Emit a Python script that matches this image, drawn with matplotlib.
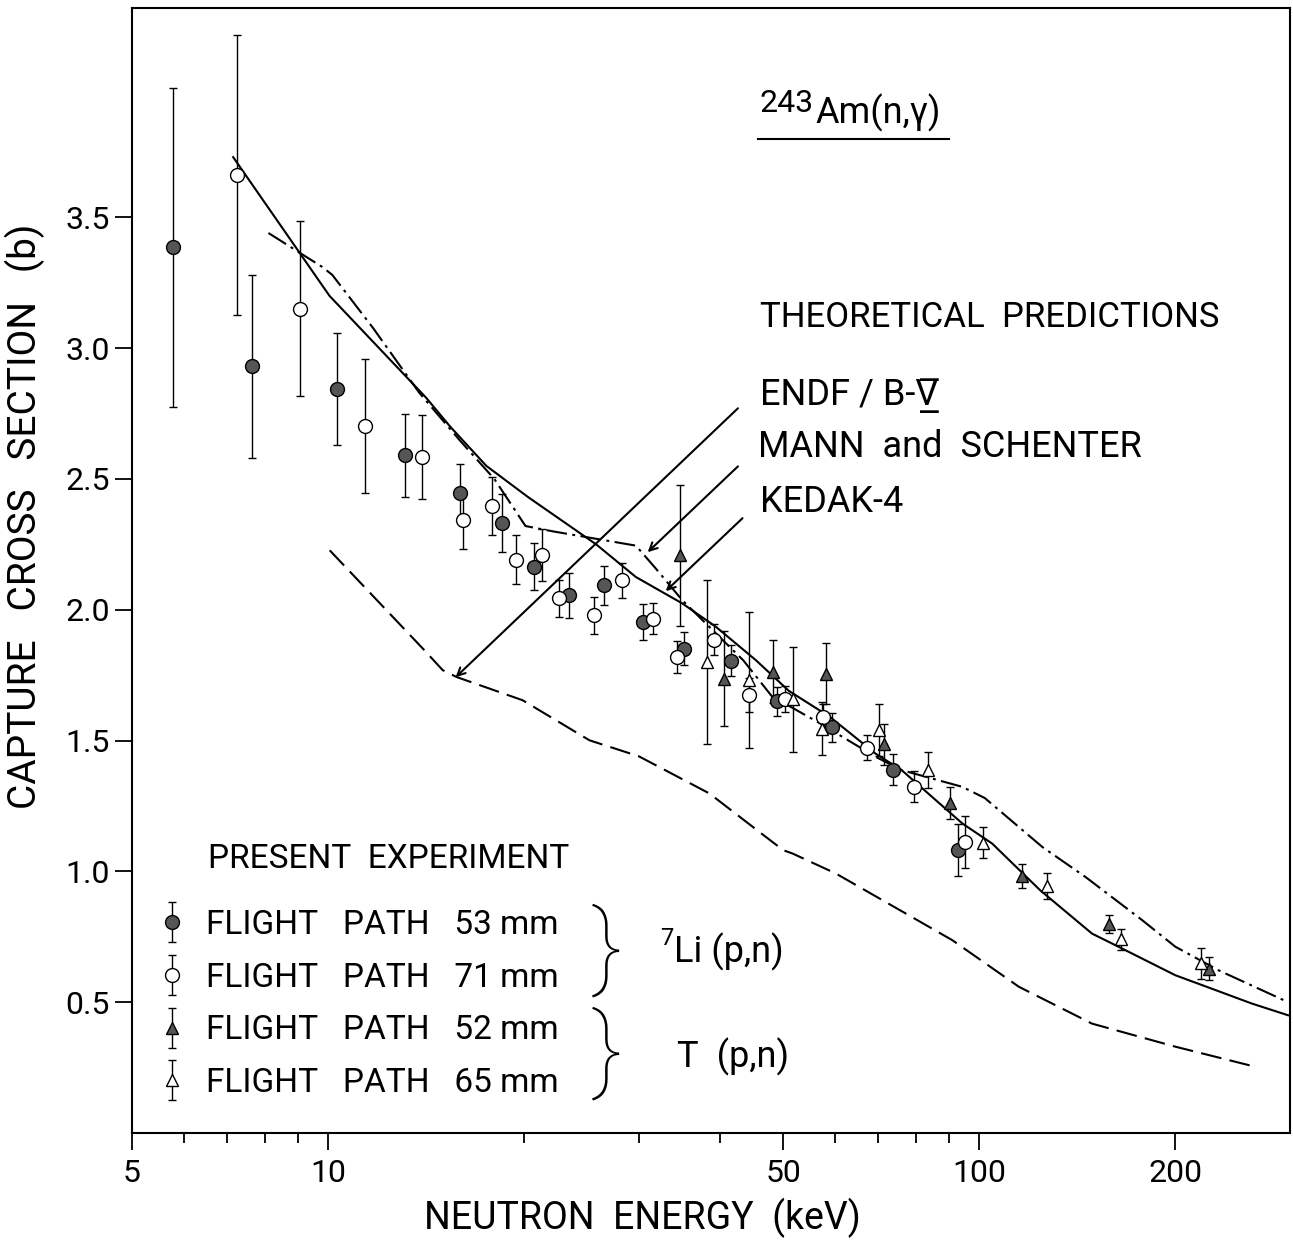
import matplotlib
matplotlib.use('Agg')
import matplotlib.pyplot as plt
from matplotlib.ticker import FixedLocator, NullFormatter
from matplotlib.legend_handler import HandlerErrorbar
from matplotlib.container import ErrorbarContainer

plt.rcParams['font.family'] = ['Roboto', 'DejaVu Sans']

# present experiment, 7Li(p,n) source
e53 = [5.79, 7.63, 10.32, 13.14, 15.92, 18.49, 20.75, 23.43, 26.57, 30.4, 35.2, 41.6, 48.9, 59.5, 73.6, 92.9]
s53 = [3.385, 2.93, 2.843, 2.59, 2.448, 2.332, 2.164, 2.055, 2.094, 1.953, 1.851, 1.805, 1.650, 1.550, 1.389, 1.081]
d53 = [0.61, 0.35, 0.215, 0.16, 0.11, 0.11, 0.09, 0.086, 0.074, 0.07, 0.063, 0.06, 0.055, 0.055, 0.06, 0.10]

e71 = [7.24, 9.05, 11.41, 13.94, 16.1, 17.84, 19.45, 21.3, 22.66, 25.6, 28.25, 31.5, 34.4, 39.2, 44.3, 50.4, 57.6, 67.3, 79.5, 95.1]
s71 = [3.66, 3.151, 2.701, 2.584, 2.342, 2.396, 2.192, 2.208, 2.043, 1.979, 2.113, 1.966, 1.82, 1.886, 1.676, 1.66, 1.589, 1.473, 1.324, 1.113]
d71 = [0.535, 0.335, 0.256, 0.16, 0.11, 0.11, 0.095, 0.10, 0.07, 0.07, 0.067, 0.06, 0.06, 0.06, 0.065, 0.05, 0.05, 0.047, 0.058, 0.10]

# T(p,n) source
e52 = [34.7, 40.6, 48.3, 58.1, 71.4, 90.3, 116.5, 158, 225.6]
s52 = [2.208, 1.737, 1.763, 1.756, 1.486, 1.262, 0.982, 0.80, 0.628]
d52 = [0.27, 0.18, 0.12, 0.116, 0.078, 0.06, 0.045, 0.035, 0.045]

e65 = [38.2, 44.3, 51.7, 57.3, 70.1, 83.5, 101.3, 126.9, 165, 219]
s65 = [1.80, 1.73, 1.657, 1.546, 1.54, 1.387, 1.11, 0.943, 0.74, 0.648]
d65 = [0.315, 0.26, 0.2, 0.10, 0.10, 0.07, 0.06, 0.05, 0.04, 0.06]

# theoretical predictions
e_kedak = [7.15, 10.05, 14.15, 15.4, 17.5, 20.3, 25.8, 29.7, 35.0, 39.4, 45.4, 51.0, 59.0, 69.3, 76.0, 82.4, 94.2, 104.7, 124.0, 149.0, 163.6, 200, 220, 262, 298]
s_kedak = [3.73, 3.20, 2.81, 2.70, 2.55, 2.43, 2.25, 2.125, 2.024, 1.935, 1.807, 1.69, 1.59, 1.45, 1.387, 1.31, 1.183, 1.106, 0.928, 0.762, 0.712, 0.603, 0.565, 0.495, 0.45]

e_mann = [8.1, 9.8, 10.15, 11.7, 13.8, 15.9, 18.0, 20.1, 22.1, 29.7, 31.8, 35.0, 39.4, 43.4, 48.0, 57.0, 69.3, 76.0, 94.2, 102, 125, 145.5, 178, 200, 233, 298]
s_mann = [3.44, 3.31, 3.28, 3.08, 2.83, 2.65, 2.50, 2.32, 2.30, 2.245, 2.16, 2.036, 1.91, 1.807, 1.67, 1.565, 1.438, 1.387, 1.323, 1.28, 1.093, 0.979, 0.813, 0.712, 0.622, 0.50]

e_endf = [10.06, 14.0, 15.0, 15.75, 19.9, 25.2, 30.0, 38.5, 47.0, 50.0, 51.7, 60.2, 71.0, 90.9, 115, 149, 200, 265.5]
s_endf = [2.227, 1.85, 1.769, 1.743, 1.654, 1.501, 1.44, 1.298, 1.132, 1.081, 1.068, 0.992, 0.89, 0.737, 0.559, 0.418, 0.33, 0.253]

xmajor = [5, 10, 50, 100, 200]
xminor = [6, 7, 8, 9, 20, 30, 40, 60, 70, 80, 90]
yticks = [0.5, 1.0, 1.5, 2.0, 2.5, 3.0, 3.5]

fig = plt.figure(figsize=(12.93, 12.46), dpi=100)
ax = fig.add_axes([132/1293, 1-1133/1246, 1158/1293, 1125/1246])
ax.set_xscale('log')

ax.plot(e_kedak, s_kedak, color='black', lw=1.5, zorder=2)
ax.plot(e_mann, s_mann, color='black', lw=1.5, linestyle=(0, (10, 2.6, 1.4, 2.6)), zorder=2)
ax.plot(e_endf, s_endf, color='black', lw=1.5, linestyle=(0, (10, 4)), zorder=2)

kw = dict(mec='black', mew=1, ecolor='black', elinewidth=1, capsize=3, capthick=1, linestyle='none', zorder=3)
h53 = ax.errorbar(e53, s53, yerr=d53, fmt='o', ms=10, mfc='#555555', **kw)
h71 = ax.errorbar(e71, s71, yerr=d71, fmt='o', ms=10, mfc='white', **kw)
h52 = ax.errorbar(e52, s52, yerr=d52, fmt='^', ms=9, mfc='#555555', **kw)
h65 = ax.errorbar(e65, s65, yerr=d65, fmt='^', ms=9, mfc='white', **kw)

ax.set_xlim(5, 300)
ax.set_ylim(0, 4.3)
ax.xaxis.set_major_locator(FixedLocator(xmajor))
ax.xaxis.set_minor_locator(FixedLocator(xminor))
ax.xaxis.set_minor_formatter(NullFormatter())
ax.set_xticklabels([str(v) for v in xmajor])
ax.set_yticks(yticks)
ax.set_yticklabels(['%.1f' % v for v in yticks])
ax.tick_params(axis='both', which='major', direction='out', length=12, width=1.3, labelsize=23)
ax.tick_params(axis='x', which='major', pad=7)
ax.tick_params(axis='y', which='major', pad=4)
ax.tick_params(axis='x', which='minor', direction='out', length=7, width=1.3)
for sp in ax.spines.values():
    sp.set_linewidth(1.5)

ax.set_xlabel('NEUTRON  ENERGY  (keV)', fontsize=27)
ax.xaxis.set_label_coords(0.441, -0.058)
ax.set_ylabel('CAPTURE   CROSS   SECTION   (b)', fontsize=28)
ax.yaxis.set_label_coords(-0.075, 0.548)

# title
ax.text(46.0, 3.901, '243', fontsize=23)
ax.text(56.0, 3.859, 'Am(n,γ)', fontsize=26)
ax.plot([45.7, 89.9], [3.80, 3.80], color='black', lw=1.5)

# theoretical predictions
ax.text(46.0, 3.080, 'THEORETICAL  PREDICTIONS', fontsize=25)
ax.text(46.0, 2.782, 'ENDF / B-V\u0305\u0332', fontsize=26)
ax.text(45.7, 2.583, 'MANN  and  SCHENTER', fontsize=26)
ax.text(46.0, 2.373, 'KEDAK-4', fontsize=26)
ap = dict(arrowstyle='->', lw=1.5, color='black', shrinkA=0, shrinkB=0, mutation_scale=14)
ax.annotate('', xy=(15.7, 1.742), xytext=(42.6, 2.77), arrowprops=ap)
ax.annotate('', xy=(30.96, 2.22), xytext=(42.6, 2.548), arrowprops=ap)
ax.annotate('', xy=(33.0, 2.071), xytext=(43.3, 2.35), arrowprops=ap)

# present experiment legend
ax.text(6.55, 1.012, 'PRESENT  EXPERIMENT', fontsize=24)
labels = ['FLIGHT   PATH   53 mm', 'FLIGHT   PATH   71 mm', 'FLIGHT   PATH   52 mm', 'FLIGHT   PATH   65 mm']
ax.legend([h53, h71, h52, h65], labels, loc='upper left', bbox_to_anchor=(0.0203, 0.1991),
          frameon=False, fontsize=24, handlelength=1.0, handletextpad=0.5, labelspacing=0.62,
          borderpad=0, borderaxespad=0, numpoints=1,
          handler_map={ErrorbarContainer: HandlerErrorbar(xerr_size=0.6)})
ax.text(26.8, 0.699, '}', fontsize=68, fontweight='light', ha='center', va='center')
ax.text(26.8, 0.305, '}', fontsize=68, fontweight='light', ha='center', va='center')
ax.text(32.3, 0.718, '7', fontsize=17)
ax.text(34.0, 0.653, 'Li (p,n)', fontsize=26)
ax.text(34.4, 0.252, 'T  (p,n)', fontsize=26)

fig.savefig('out.png', dpi=100)
